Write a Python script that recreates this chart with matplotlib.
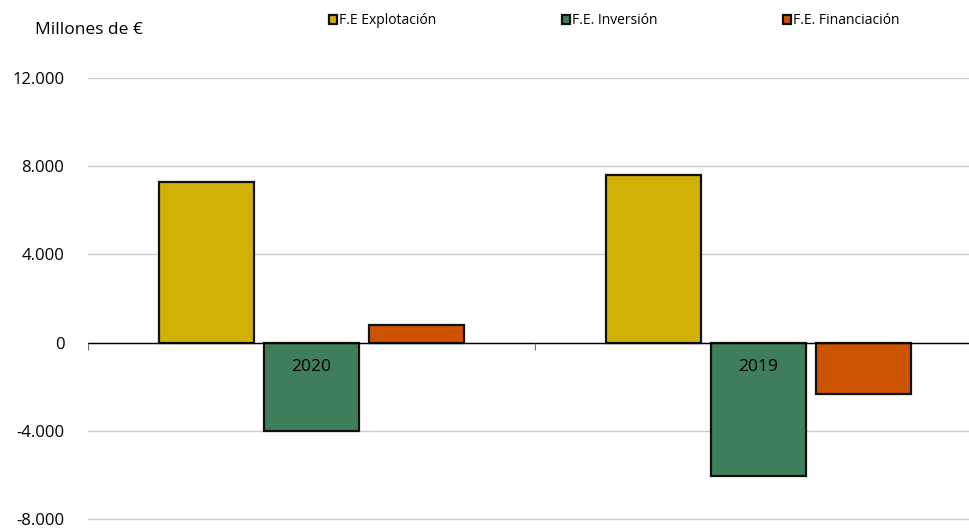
import matplotlib
matplotlib.use("Agg")
import matplotlib.pyplot as plt
import numpy as np

categories = ["2020", "2019"]
series_names = ["F.E Explotación", "F.E. Inversión", "F.E. Financiación"]
explotacion = [7300, 7600]
inversion = [-4030, -6070]
financiacion = [800, -2350]
yticks = [-8000, -4000, 0, 4000, 8000, 12000]
ytick_labels = ["-8.000", "-4.000", "0", "4.000", "8.000", "12.000"]

colors = ["#D1B106", "#3E7E5A", "#CE5300"]

plt.rcParams['font.family'] = ['Open Sans', 'DejaVu Sans']

fig = plt.figure(figsize=(9.7, 5.29), dpi=100)
ppu = (519 - 78) / 20000.0
ax = fig.add_axes([88 / 970, (10 - 100 * ppu) / 529, (970 - 88) / 970, (519 - 78 + 100 * ppu) / 529])

x = np.arange(len(categories))
w = 0.2125
step = 0.234
handles = []
for i, (vals, name, c) in enumerate(zip([explotacion, inversion, financiacion], series_names, colors)):
    b = ax.bar(x + (i - 1) * step, vals, width=w, color=c, edgecolor="#111111",
               linewidth=1.6, label=name, zorder=3)
    handles.append(b)

ax.set_xlim(-0.5, -0.5 + (970 - 88) / 447)
ax.set_ylim(-8100, 12000)
ax.set_yticks(yticks)
ax.set_yticklabels(ytick_labels)
ax.tick_params(axis="y", length=0, pad=17, colors="black", labelsize=12)
ax.grid(axis="y", color="#cccccc", linewidth=1, zorder=0)
ax.axhline(0, color="black", linewidth=1, zorder=4)

for s in ax.spines.values():
    s.set_visible(False)

ax.set_xticks(x)
ax.set_xticklabels(categories)
ax.set_xticks([-0.5, 0.5], minor=True)
ax.tick_params(axis="x", which="major", length=0, pad=12, labelsize=12.5)
ax.tick_params(axis="x", which="minor", length=5, color="#555555", direction="out")
ax.spines["bottom"].set_position(("data", 0))
ax.xaxis.set_zorder(5)

fig.text(35 / 970, 1 - 30 / 529, "Millones de €", fontsize=12.5, va="center", ha="left")

leg = fig.legend(handles=handles, labels=series_names, loc="center left",
                 bbox_to_anchor=(329 / 970, 1 - 21 / 529), ncol=3, frameon=False,
                 fontsize=10, handlelength=0.6, handleheight=0.6, handletextpad=0.15,
                 columnspacing=9.0, borderaxespad=0, borderpad=0)

fig.savefig("out.png", dpi=100)
